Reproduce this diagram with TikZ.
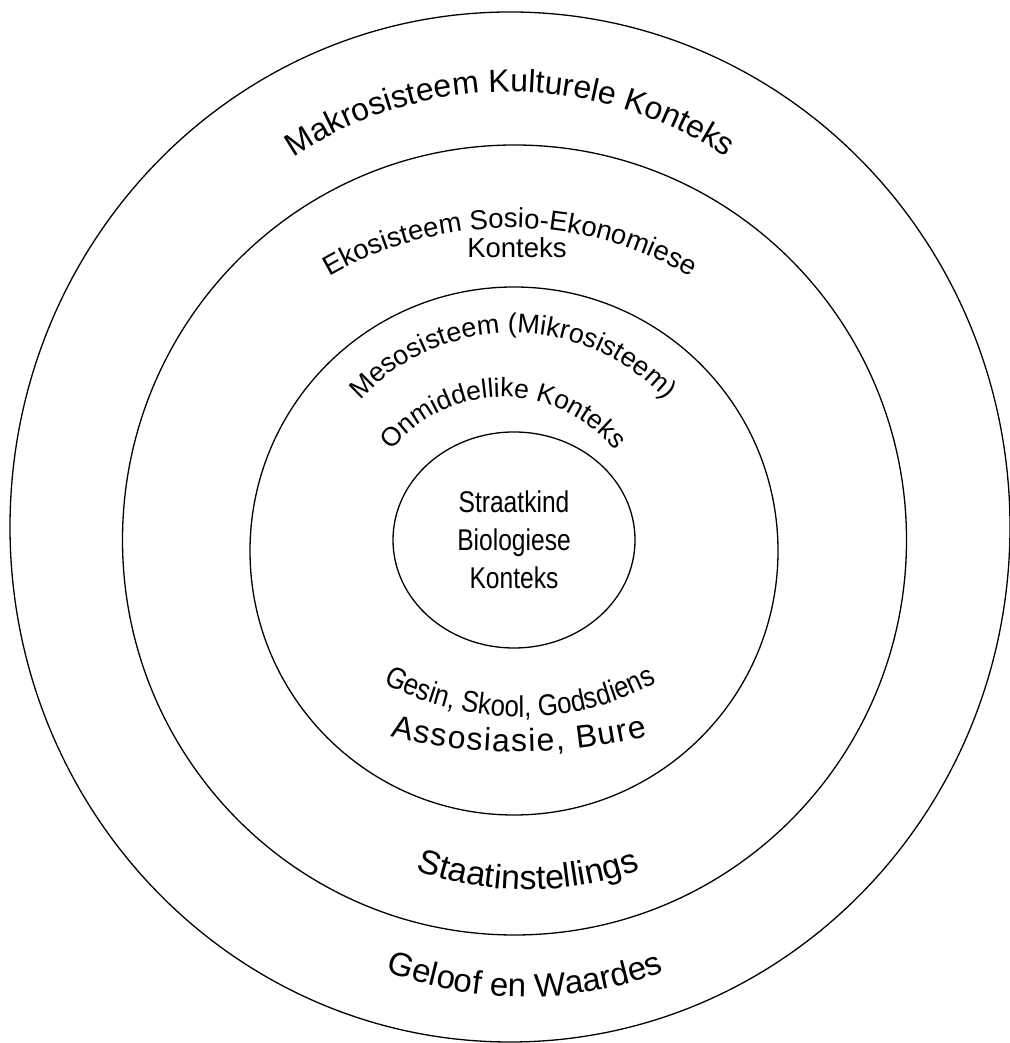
\documentclass[tikz,border=0pt]{standalone}
\usepackage{fontspec}
\setmainfont{Liberation Sans}
\newfontfamily\narrowfam[FakeStretch=0.82]{Liberation Sans}
\newfontfamily\gesinfam[FakeStretch=0.86]{Liberation Sans}
\usetikzlibrary{shapes.geometric,decorations.text}

\newcommand\makrofont{\fontsize{32}{32}\selectfont}
\newcommand\ekofont{\fontsize{27.5}{27.5}\selectfont}
\newcommand\mesofont{\fontsize{27}{27}\selectfont}
\newcommand\onmidfont{\fontsize{26.5}{26.5}\selectfont}
\newcommand\gesinfont{\gesinfam\fontsize{30}{30}\selectfont}
\newcommand\staatfont{\fontsize{34}{34}\selectfont}

\begin{document}
\begin{tikzpicture}[x=1pt,y=1pt]
  \useasboundingbox (0,0) rectangle (1009,1043);
  \tikzstyle{RingStyle}=[draw,ellipse,line width=1.3pt,inner sep=0pt]
  \tikzstyle{ArcText}=[decorate,decoration={text along path,text align=center}]
  \tikzstyle{FitText}=[decorate,decoration={text along path,text align=fit to path}]
  % rings
  \node[RingStyle,minimum width=1000pt,minimum height=1030pt] (makro) at (510,516) {};
  \node[RingStyle,minimum width=784pt,minimum height=790pt] (ekso) at (514.5,503) {};
  \node[RingStyle,minimum width=528pt,minimum height=528pt] (meso) at (514,492) {};
  \node[RingStyle,minimum width=242pt,minimum height=216pt,align=center,
        font=\narrowfam\fontsize{30}{38}\selectfont] (kind) at (514,503)
        {Straatkind\\Biologiese\\Konteks};
  % centres of the curved labels
  \coordinate (makroC) at (510,561);
  \coordinate (ekoC) at (510,455);
  \coordinate (mesoC) at (513,503);
  \coordinate (onmidC) at (503,503);
  \coordinate (gesinC) at (520,616);
  \coordinate (assosC) at (518,831);
  \coordinate (staatC) at (528,474);
  \coordinate (geloofC) at (525,438);
  % curved labels
  \path[ArcText,decoration={text={|\makrofont|Makrosisteem Kulturele Konteks}}]
    ([shift={(160:390pt)}]makroC) arc[start angle=160,end angle=20,radius=390pt];
  \path[ArcText,decoration={text={|\ekofont|Ekosisteem Sosio-Ekonomiese}}]
    ([shift={(150:360pt)}]ekoC) arc[start angle=150,end angle=30,radius=360pt];
  \node[font=\ekofont,anchor=base] (ekoK) at (517,785) {Konteks};
  \path[ArcText,decoration={text={|\mesofont|Mesosisteem (Mikrosisteem)}}]
    ([shift={(170:207pt)}]mesoC) arc[start angle=170,end angle=10,radius=207pt];
  \path[ArcText,decoration={text={|\onmidfont|Onmiddellike Konteks}}]
    ([shift={(175:143pt)}]onmidC) arc[start angle=175,end angle=5,radius=143pt];
  \path[ArcText,decoration={text={|\gesinfont|Gesin, Skool, Godsdiens}}]
    ([shift={(225:290pt)}]gesinC) arc[start angle=225,end angle=315,radius=290pt];
  \path[FitText,decoration={text={|\makrofont|Assosiasie, Bure}}]
    ([shift={(256.3:540pt)}]assosC) arc[start angle=256.3,end angle=283.9,radius=540pt];
  \path[ArcText,decoration={text={|\staatfont|Staatinstellings}}]
    ([shift={(230:321pt)}]staatC) arc[start angle=230,end angle=310,radius=321pt];
  \path[ArcText,decoration={text={|\fontsize{33}{33}\selectfont|Geloof en Waardes}}]
    ([shift={(235:392pt)}]geloofC) arc[start angle=235,end angle=305,radius=392pt];
\end{tikzpicture}
\end{document}
